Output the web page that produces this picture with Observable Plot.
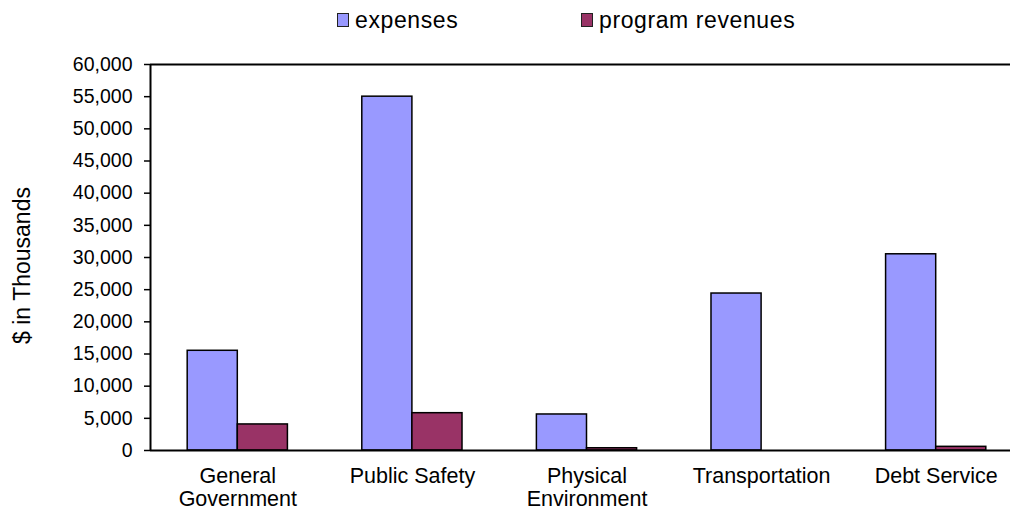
<!DOCTYPE html>
<html>
<head>
<meta charset="utf-8">
<script src="https://cdn.jsdelivr.net/npm/d3@7"></script>
<script src="https://cdn.jsdelivr.net/npm/@observablehq/plot@0.6"></script>
<style>
  html, body { margin: 0; padding: 0; background: #fff; overflow: hidden; width: 1010px; height: 513px; }
  #wrap { position: relative; width: 1010px; height: 513px; overflow: hidden; font-family: Arial, "Liberation Sans", sans-serif; }
  #chart { position: absolute; left: 0; top: 0; width: 1023px; }
  #chart svg { max-width: none !important; width: 1023px !important; height: 513px !important; }
  .legend-item { position: absolute; top: 5px; height: 30px; display: flex; align-items: center; font-size: 23px; letter-spacing: 0.6px; color: #000; white-space: nowrap; }
  .swatch { width: 12px; height: 14px; border: 1.5px solid #222; margin-right: 6px; box-sizing: border-box; }
</style>
</head>
<body>
<div id="wrap">
  <div id="chart"></div>
  <div id="legend"></div>
</div>
<script>
const categories = ["General\nGovernment", "Public Safety", "Physical\nEnvironment", "Transportation", "Debt Service"];
const seriesNames = ["expenses", "program revenues"];
const expenses = [15500, 55000, 5600, 24400, 30500];
const programRevenues = [4050, 5800, 350, 0, 570];
const yTickValues = [0, 5000, 10000, 15000, 20000, 25000, 30000, 35000, 40000, 45000, 50000, 55000, 60000];
const seriesColors = ["#9999FF", "#993366"];
const yTitle = "$ in Thousands";

const barHalf = 0.287; // bar width as a fraction of a category slot
const data = categories.flatMap((c, i) => [
  {i, cat: c, series: seriesNames[0], value: expenses[i]},
  {i, cat: c, series: seriesNames[1], value: programRevenues[i]}
]);

const chart = Plot.plot({
  width: 1023,
  height: 513,
  marginLeft: 150,
  marginRight: 0,
  marginTop: 64,
  marginBottom: 63,
  style: {fontFamily: "Arial, 'Liberation Sans', sans-serif", background: "white", maxWidth: "none"},
  x: {domain: [0, categories.length], axis: null},
  y: {domain: [0, 60000], axis: null},
  color: {domain: seriesNames, range: seriesColors},
  marks: [
    Plot.rectY(data, {
      x1: d => d.series === seriesNames[0] ? d.i + 0.5 - barHalf : d.i + 0.5,
      x2: d => d.series === seriesNames[0] ? d.i + 0.5 : d.i + 0.5 + barHalf,
      y1: 0,
      y2: "value",
      fill: "series",
      stroke: "black",
      strokeWidth: 1.5
    }),
    Plot.ruleY([0], {stroke: "black", strokeWidth: 2}),
    Plot.ruleY([60000], {stroke: "black", strokeWidth: 2}),
    Plot.ruleX([0], {stroke: "black", strokeWidth: 2}),
    Plot.axisY(yTickValues, {
      tickSize: 6,
      tickPadding: 12,
      tickFormat: d3.format(","),
      fontSize: 19.5,
      label: null,
      stroke: "black",
      strokeWidth: 1.5
    }),
    Plot.axisX(categories.map((c, i) => i + 0.5), {
      tickSize: 0,
      tickPadding: 17,
      tickFormat: d => categories[Math.floor(d)],
      fontSize: 21.5,
      lineHeight: 1.04,
      label: null
    }),
    Plot.text([yTitle], {
      frameAnchor: "left",
      rotate: -90,
      dx: -128,
      dy: 8,
      fontSize: 23,
      textAnchor: "middle"
    })
  ]
});
document.getElementById("chart").appendChild(chart);

const legend = document.getElementById("legend");
const legendLeft = [337, 581];
seriesNames.forEach((name, k) => {
  const item = document.createElement("div");
  item.className = "legend-item";
  item.style.left = legendLeft[k] + "px";
  const sw = document.createElement("span");
  sw.className = "swatch";
  sw.style.background = seriesColors[k];
  item.appendChild(sw);
  item.appendChild(document.createTextNode(name));
  legend.appendChild(item);
});
</script>
</body>
</html>
